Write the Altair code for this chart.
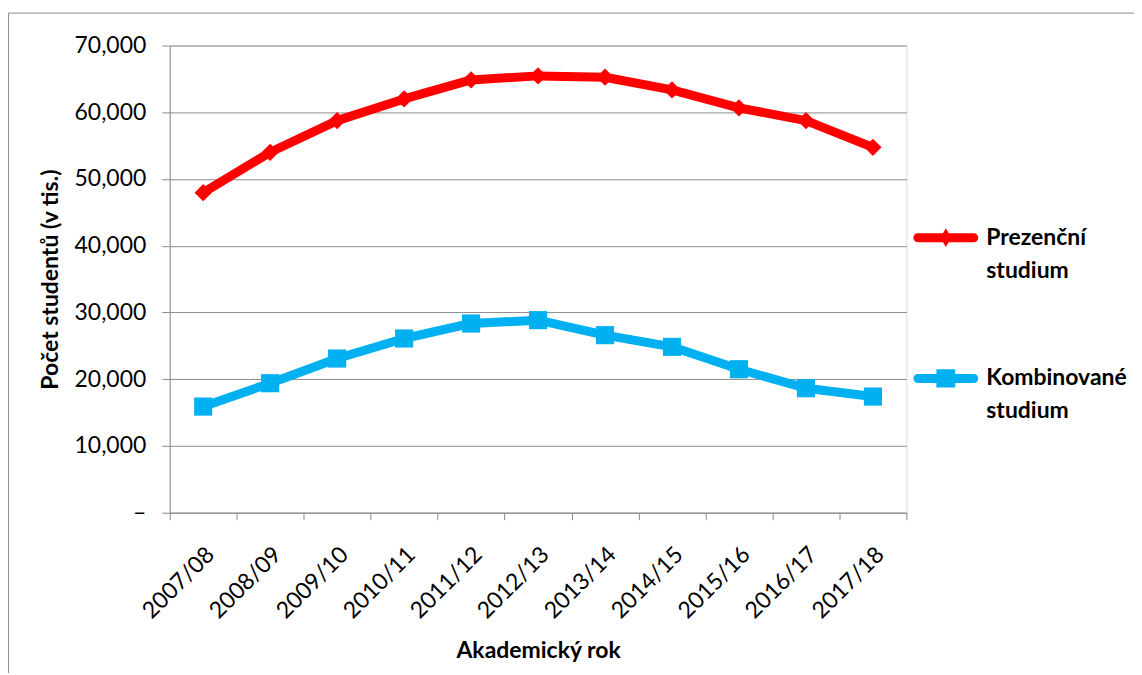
import altair as alt
import pandas as pd

# ---- data ----
years = ["2007/08", "2008/09", "2009/10", "2010/11", "2011/12", "2012/13",
         "2013/14", "2014/15", "2015/16", "2016/17", "2017/18"]
prezencni = [47950, 54000, 58750, 62000, 64850, 65450, 65250, 63350, 60650, 58750, 54750]
kombinovane = [15900, 19400, 23100, 26100, 28350, 28850, 26600, 24850, 21500, 18650, 17400]
series_names = ["Prezenční studium", "Kombinované studium"]
y_ticks = [0, 10000, 20000, 30000, 40000, 50000, 60000, 70000]

# ---- styles ----
colors = ["#FF0000", "#00B0F0"]
GRAY = "#8c8c8c"
FONT = "Lato"
FS = 23

# legend symbols: thick rounded line with a marker in the middle
path_red = ("M-0.86,-0.14L0.86,-0.14A0.14,0.14 0 0 1 0.86,0.14L-0.86,0.14"
            "A0.14,0.14 0 0 1 -0.86,-0.14Z M0,-0.29L0.17,0L0,0.29L-0.17,0Z")
path_blue = ("M-0.86,-0.14L0.86,-0.14A0.14,0.14 0 0 1 0.86,0.14L-0.86,0.14"
             "A0.14,0.14 0 0 1 -0.86,-0.14Z M-0.29,-0.28L0.29,-0.28L0.29,0.28L-0.29,0.28Z")

df = pd.DataFrame({
    "rok": years * 2,
    "studium": [series_names[0]] * len(years) + [series_names[1]] * len(years),
    "pocet": prezencni + kombinovane,
})

x_enc = alt.X(
    "rok:N", sort=years, bandPosition=0.5,
    scale=alt.Scale(type="band", paddingInner=0, paddingOuter=0),
    title="Akademický rok",
    axis=alt.Axis(
        labelAngle=-45, labelAlign="right", labelBaseline="middle",
        labelFont=FONT, labelFontSize=FS, labelColor="black",
        labelPadding=31, labelOffset=7,
        tickBand="extent", tickSize=7, tickColor=GRAY, domainColor=GRAY,
        grid=False, titleFont=FONT, titleFontSize=FS, titleFontWeight="bold",
        titleColor="black", titlePadding=17,
    ),
)
y_enc = alt.Y(
    "pocet:Q",
    scale=alt.Scale(domain=[0, 70000], nice=False),
    title="Počet studentů (v tis.)",
    axis=alt.Axis(
        values=y_ticks,
        labelExpr="datum.value == 0 ? '–' : format(datum.value, ',')",
        labelFont=FONT, labelFontSize=FS, labelColor="black", labelPadding=16,
        tickSize=8, tickColor=GRAY, domainColor=GRAY,
        grid=True, gridColor=GRAY, gridWidth=1,
        titleFont=FONT, titleFontSize=FS, titleFontWeight="bold",
        titleColor="black", titlePadding=11,
    ),
)

base = alt.Chart(df)


def series_layers(name, color, shape, size):
    sub = base.transform_filter(alt.datum.studium == name)
    ln = sub.mark_line(strokeWidth=9, strokeJoin="round", strokeCap="round", color=color).encode(
        x=x_enc, y=y_enc)
    pt = sub.mark_point(filled=True, shape=shape, size=size, color=color, opacity=1).encode(
        x=x_enc, y=y_enc)
    return [ln, pt]


layers_red = series_layers(series_names[0], colors[0], "diamond", 300)
layers_blue = series_layers(series_names[1], colors[1], "square", 330)

leg = alt.Legend(
    title=None, orient="none", legendX=745, legendY=160, padding=0,
    labelFont=FONT, labelFontSize=FS, labelFontWeight="bold", labelColor="black",
    labelLimit=400, labelOffset=8,
    labelExpr="split(datum.label, ' ')",
    symbolSize=4225, symbolStrokeWidth=0, rowPadding=63,
)
legend_layer = base.mark_point(filled=True, opacity=0).encode(
    x=x_enc, y=y_enc,
    color=alt.Color("studium:N", scale=alt.Scale(domain=series_names, range=colors), legend=leg),
    shape=alt.Shape("studium:N", scale=alt.Scale(domain=series_names, range=[path_red, path_blue]), legend=leg),
)

frame_data = alt.Data(values=[{"k": 1}])
frame_left = alt.Chart(frame_data).mark_rule(color=GRAY, strokeWidth=1).encode(
    x=alt.value(-161.5), y=alt.value(-32.5), y2=alt.value(640)
)
frame_top = alt.Chart(frame_data).mark_rule(color=GRAY, strokeWidth=1).encode(
    x=alt.value(-161.5), x2=alt.value(980), y=alt.value(-32.5)
)

chart = alt.layer(frame_left, frame_top, *layers_red, *layers_blue, legend_layer).properties(
    width=738, height=468,
    autosize=alt.AutoSizeParams(type="none"),
    padding={"left": 162, "top": 37, "right": 228, "bottom": 160},
).configure_view(stroke=None).configure(
    font=FONT, style={"guide-label": {"lineHeight": 33}}
).configure_legend(symbolOpacity=1)

chart.save("out.html", embed_options={"renderer": "svg", "actions": False})
